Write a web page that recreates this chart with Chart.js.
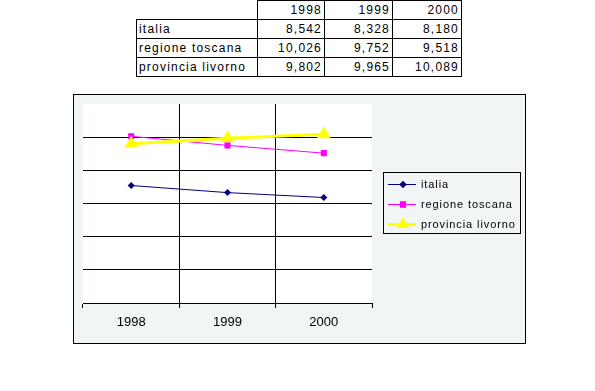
<!DOCTYPE html>
<html>
<head>
<meta charset="utf-8">
<script src="https://cdn.jsdelivr.net/npm/chart.js@4.4.0/dist/chart.umd.min.js"></script>
<style>
  body { margin: 0; background: #fff; width: 595px; height: 391px; position: relative; overflow: hidden; }
  #tbl { position: absolute; left: 136px; top: 0; border-collapse: collapse; table-layout: fixed;
         font: 12px "Liberation Sans", Arial, sans-serif; letter-spacing: 1.2px; color: #000; }
  #tbl td { height: 18px; padding: 0 2px; line-height: 18px; border: 1px solid #000; white-space: nowrap; overflow: hidden; }
  #tbl td.num { text-align: right; padding-right: 2px; }
  #tbl td.blank { border-top: none; border-left: none; }
  #box { position: absolute; left: 73px; top: 94px; width: 453px; height: 250px; box-sizing: border-box;
         border: 1px solid #000; background: #f2f5f5; }
  #inner { position: relative; width: 451px; height: 248px; }
</style>
</head>
<body>
<table id="tbl"></table>
<div id="box"><div id="inner"><canvas id="chart"></canvas></div></div>
<script>
// data
const years = ['1998', '1999', '2000'];
const italia = [8542, 8328, 8180];
const regioneToscana = [10026, 9752, 9518];
const provinciaLivorno = [9802, 9965, 10089];
const seriesNames = ['italia', 'regione toscana', 'provincia livorno'];

// table above the chart
const tbl = document.getElementById('tbl');
const colWidths = [121, 67, 68, 69];
let html = '<colgroup>' + colWidths.map(w => `<col style="width:${w}px">`).join('') + '</colgroup>';
html += '<tr><td class="blank"></td>' + years.map(y => `<td class="num">${y}</td>`).join('') + '</tr>';
[italia, regioneToscana, provinciaLivorno].forEach((vals, i) => {
  html += `<tr><td>${seriesNames[i]}</td>` + vals.map(v => `<td class="num">${v.toLocaleString('en-US')}</td>`).join('') + '</tr>';
});
tbl.innerHTML = html;

// white plot area
const plotBg = {
  id: 'plotBg',
  beforeDraw(chart) {
    const a = chart.chartArea;
    chart.ctx.save();
    chart.ctx.fillStyle = '#fff';
    chart.ctx.fillRect(a.left, a.top, a.right - a.left, a.bottom - a.top);
    chart.ctx.restore();
  }
};

// legend drawn in a box to the right of the plot
const boxLegend = {
  id: 'boxLegend',
  afterDraw(chart) {
    const ctx = chart.ctx;
    const x0 = 309, y0 = 77, w = 137, h = 61;
    ctx.save();
    ctx.strokeStyle = '#000';
    ctx.lineWidth = 1;
    ctx.strokeRect(x0 + 0.5, y0 + 0.5, w, h);
    chart.data.datasets.forEach((ds, i) => {
      const cy = 89 + i * 20;
      ctx.strokeStyle = ds.borderColor;
      ctx.lineWidth = ds.borderWidth;
      ctx.beginPath();
      ctx.moveTo(314, cy + 0.5);
      ctx.lineTo(342, cy + 0.5);
      ctx.stroke();
      ctx.fillStyle = ds.pointBackgroundColor;
      Chart.helpers.drawPoint(ctx, {
        pointStyle: ds.pointStyle, radius: ds.legendRadius, rotation: 0, borderWidth: 0
      }, 329, cy + 0.5);
      ctx.fill();
      ctx.fillStyle = '#000';
      ctx.font = '11px "Liberation Sans", Arial, sans-serif';
      ctx.letterSpacing = '0.9px';
      ctx.textBaseline = 'middle';
      ctx.fillText(ds.label, 347, cy + 1);
    });
    ctx.restore();
  }
};

new Chart(document.getElementById('chart'), {
  type: 'line',
  data: {
    labels: years,
    datasets: [
      { label: seriesNames[0], data: italia, borderColor: '#000080', backgroundColor: '#000080',
        pointBackgroundColor: '#000080', borderWidth: 1, pointStyle: 'rectRot', pointRadius: 3.5,
        pointBorderWidth: 0, legendRadius: 3.5, order: 3 },
      { label: seriesNames[1], data: regioneToscana, borderColor: '#ff00ff', backgroundColor: '#ff00ff',
        pointBackgroundColor: '#ff00ff', borderWidth: 1, pointStyle: 'rect', pointRadius: 4.3,
        pointBorderWidth: 0, legendRadius: 4.3, order: 2 },
      { label: seriesNames[2], data: provinciaLivorno, borderColor: '#ffff00', backgroundColor: '#ffff00',
        pointBackgroundColor: '#ffff00', borderWidth: 3, pointStyle: 'triangle', pointRadius: 8,
        pointBorderWidth: 0, legendRadius: 7, order: 1 }
    ]
  },
  options: {
    responsive: true,
    maintainAspectRatio: false,
    animation: false,
    layout: { padding: { left: 9, top: 9, right: 153, bottom: 0 } },
    elements: { line: { tension: 0 } },
    plugins: { legend: { display: false }, tooltip: { enabled: false } },
    scales: {
      x: {
        offset: true,
        grid: {
          offset: true,
          // only the inner category boundaries get a full-height line
          color: c => (c.index > 0 && c.index < years.length) ? '#000' : 'rgba(0,0,0,0)',
          tickColor: '#000',
          tickLength: 5,
          lineWidth: 1
        },
        border: { display: true, color: '#000', width: 1 },
        ticks: { color: '#000', padding: 7, font: { family: '"Liberation Sans", Arial', size: 13 } },
        afterFit: s => { s.height = 40; }
      },
      y: {
        min: 5000,
        max: 11000,
        ticks: { stepSize: 1000, display: false },
        grid: {
          color: c => c.tick && c.tick.value === 11000 ? 'rgba(0,0,0,0)' : '#000',
          drawTicks: false,
          lineWidth: 1
        },
        border: { display: false },
        afterFit: s => { s.width = 0; }
      }
    }
  },
  plugins: [plotBg, boxLegend]
});
</script>
</body>
</html>
